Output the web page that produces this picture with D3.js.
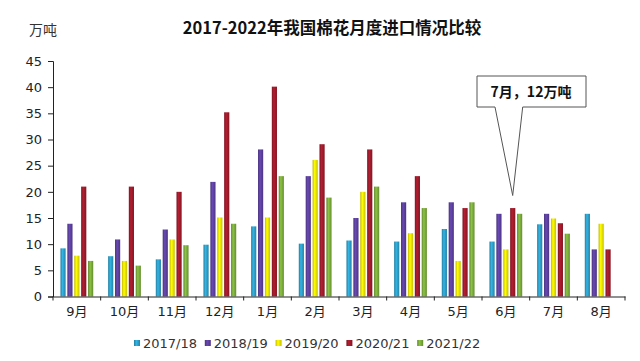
<!DOCTYPE html>
<html>
<head>
<meta charset="utf-8">
<script src="https://cdn.jsdelivr.net/npm/d3@7"></script>
<style>
  body { margin: 0; background: #fff; }
  text { font-family: "DejaVu Sans", "Noto Sans CJK SC", sans-serif; }
</style>
</head>
<body>
<figure id="chart" style="margin:0"></figure>
<script>
// data
const months = ["9月", "10月", "11月", "12月", "1月", "2月", "3月", "4月", "5月", "6月", "7月", "8月"];
const seasons = ["2017/18", "2018/19", "2019/20", "2020/21", "2021/22"];
const s2017 = [9.2, 7.7, 7.1, 9.9, 13.4, 10.1, 10.7, 10.5, 12.9, 10.5, 13.8, 15.8];
const s2018 = [13.9, 10.9, 12.8, 21.9, 28.1, 23, 15, 18, 18, 15.8, 15.8, 9];
const s2019 = [7.8, 6.8, 10.9, 15.1, 15.1, 26.1, 20, 12.1, 6.8, 9, 14.9, 13.9];
const s2020 = [21, 21, 20, 35.2, 40.1, 29.1, 28.1, 23, 16.9, 16.9, 14, 9];
const s2021 = [6.8, 5.9, 9.8, 13.9, 23, 18.9, 21, 16.9, 18, 15.8, 12, null];
const yTicks = [0, 5, 10, 15, 20, 25, 30, 35, 40, 45];

const series = [s2017, s2018, s2019, s2020, s2021];
const colors = ["#2c9cc6", "#5b3f9c", "#f2e400", "#9c1a2a", "#79a93a"];

const width = 640, height = 361;
const plotLeft = 53, plotRight = 625, plotTop = 61, plotBottom = 296.5;

const svg = d3.select("#chart").append("svg")
  .attr("width", width)
  .attr("height", height);

// cylinder look: darker edges, light middle
const defs = svg.append("defs");
colors.forEach((c, i) => {
  const g = defs.append("linearGradient").attr("id", "grad" + i)
    .attr("x1", "0%").attr("x2", "100%").attr("y1", "0%").attr("y2", "0%");
  g.append("stop").attr("offset", "0%").attr("stop-color", d3.color(c).darker(0.6));
  g.append("stop").attr("offset", "40%").attr("stop-color", d3.color(c).brighter(0.4));
  g.append("stop").attr("offset", "100%").attr("stop-color", d3.color(c).darker(0.5));
});

const x = d3.scaleBand().domain(months).range([plotLeft, plotRight]).padding(0);
const xInner = d3.scaleBand().domain(d3.range(seasons.length))
  .range([0, x.bandwidth()]).paddingInner(0.25).paddingOuter(1.08);
const y = d3.scaleLinear().domain([0, 45]).range([plotBottom, plotTop]);

// bars
series.forEach((vals, si) => {
  svg.append("g").selectAll("rect")
    .data(vals.map((v, i) => ({ m: months[i], v: v })).filter(d => d.v != null))
    .enter()
    .append("rect")
    .attr("x", d => x(d.m) + xInner(si))
    .attr("width", xInner.bandwidth())
    .attr("y", d => y(d.v))
    .attr("height", d => y(0) - y(d.v))
    .attr("fill", "url(#grad" + si + ")");
});

// y axis
const yAxis = svg.append("g")
  .attr("transform", "translate(" + plotLeft + ",0)")
  .call(d3.axisLeft(y).tickValues(yTicks).tickSize(5).tickPadding(6));
yAxis.selectAll("text").style("font-size", "13px").attr("fill", "#222");
yAxis.selectAll("line, path").attr("stroke", "#222");

// x axis, ticks between the months
const xAxis = svg.append("g")
  .attr("transform", "translate(0," + plotBottom + ")")
  .call(d3.axisBottom(x).tickSize(0).tickPadding(10));
xAxis.select(".domain").attr("stroke", "#222");
xAxis.selectAll("text").style("font-size", "13px").attr("fill", "#222");
xAxis.selectAll(".sep")
  .data(months.concat(["end"]))
  .enter()
  .append("line")
  .attr("x1", (d, i) => plotLeft + i * x.step())
  .attr("x2", (d, i) => plotLeft + i * x.step())
  .attr("y1", 0).attr("y2", 4)
  .attr("stroke", "#222");

// title and unit
svg.append("text")
  .attr("x", 332).attr("y", 34)
  .attr("text-anchor", "middle")
  .style("font-family", "'Noto Sans CJK SC', sans-serif")
  .style("font-size", "16.5px")
  .style("font-weight", "bold")
  .attr("fill", "#111")
  .text("2017-2022年我国棉花月度进口情况比较");

svg.append("text")
  .attr("x", 29).attr("y", 35)
  .style("font-family", "'Noto Sans CJK SC', sans-serif")
  .style("font-size", "14px")
  .attr("fill", "#333")
  .text("万吨");

// legend
const legend = svg.append("g").selectAll("g")
  .data(seasons)
  .enter()
  .append("g")
  .attr("transform", (d, i) => "translate(" + (134 + i * 70.8) + ",343)");
legend.append("rect")
  .attr("x", 0).attr("y", -3).attr("width", 6).attr("height", 6)
  .attr("fill", (d, i) => "url(#grad" + i + ")");
legend.append("text")
  .attr("x", 9).attr("y", 5)
  .style("font-size", "13px")
  .attr("fill", "#333")
  .text(d => d);

// callout
const callout = svg.append("g");
callout.append("path")
  .attr("d", "M477,76 H586 V107 H522.7 L512.7,195.5 L495,107 H477 Z")
  .attr("fill", "#fff")
  .attr("stroke", "#555")
  .attr("stroke-width", 1);
callout.append("text")
  .attr("x", 531).attr("y", 97)
  .attr("text-anchor", "middle")
  .style("font-family", "'Noto Sans CJK SC', sans-serif")
  .style("font-size", "14px")
  .style("font-weight", "bold")
  .attr("fill", "#111")
  .text("7月，12万吨");
</script>
</body>
</html>
